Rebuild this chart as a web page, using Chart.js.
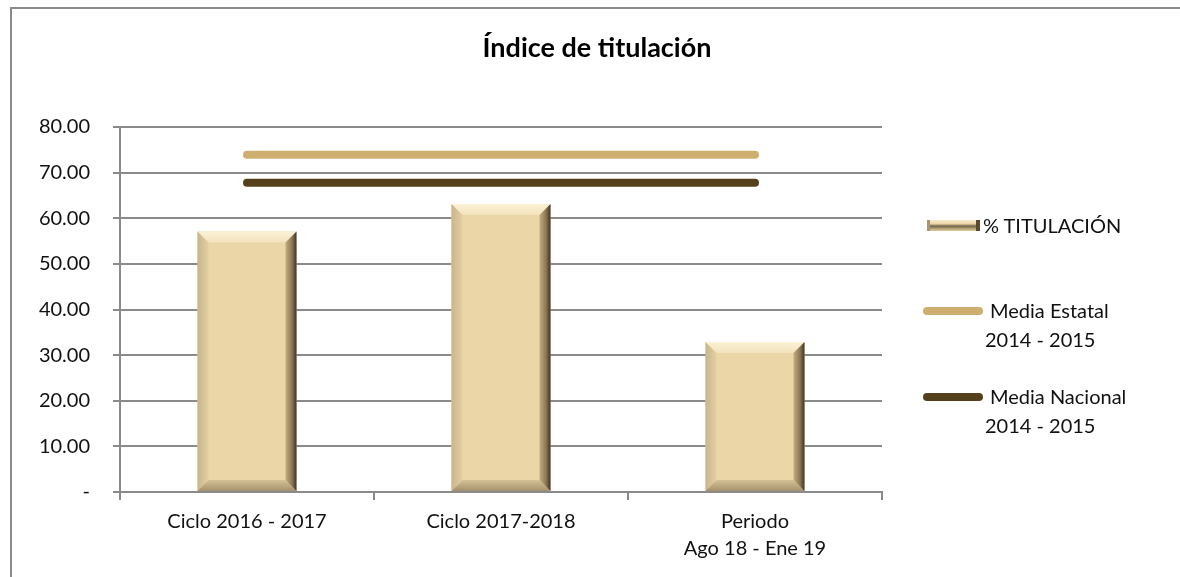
<!DOCTYPE html>
<html>
<head>
<meta charset="utf-8">
<script src="https://cdn.jsdelivr.net/npm/chart.js@4/dist/chart.umd.min.js"></script>
<style>
  body { margin: 0; background: #fff; font-family: Lato, "Open Sans", sans-serif; }
  #wrap { position: relative; width: 1180px; height: 577px; overflow: hidden; }
  #frame { position: absolute; left: 10px; top: 7px; width: 1300px; height: 700px;
           border-top: 2px solid #8a8a8a; border-left: 2px solid #8a8a8a; }
  #myChart { position: absolute; left: 0; top: 0; }
  #title { position: absolute; left: 0; width: 1194px; top: 30px; text-align: center;
           font-weight: bold; font-size: 27px; color: #000; }
  .leg { position: absolute; font-size: 20px; color: #111; line-height: 29px; white-space: nowrap; }
  .sw-line { position: absolute; height: 8px; border-radius: 4px; }
  .sw-bar { position: absolute; width: 53px; height: 11px;
            background: linear-gradient(to bottom, #f8ecce 0%, #ead5a5 35%, #6f6448 55%, #b9a47a 80%, #e2cc9c 100%);
            border-left: 3px solid #a89572; border-right: 4px solid #5a4a30; box-sizing: border-box; }
</style>
</head>
<body>
<div id="wrap">
  <div id="frame"></div>
  <canvas id="myChart" width="1180" height="577"></canvas>
  <div id="title">Índice de titulación</div>
  <div class="sw-bar" style="left:927px; top:220px;"></div>
  <div class="leg" style="left:983px; top:211px;">% TITULACIÓN</div>
  <div class="sw-line" style="left:923px; top:307px; width:60px; background:#cfaf70;"></div>
  <div class="leg" style="left:990px; top:296px;">Media Estatal</div>
  <div class="leg" style="left:985px; top:325px;">2014 - 2015</div>
  <div class="sw-line" style="left:923px; top:393px; width:60px; background:#55401c;"></div>
  <div class="leg" style="left:990px; top:382px;">Media Nacional</div>
  <div class="leg" style="left:985px; top:411px;">2014 - 2015</div>
</div>
<script>
// categories and values
var categorias = ['Ciclo 2016 - 2017', 'Ciclo 2017-2018', ['Periodo', 'Ago 18 - Ene 19']];
var titulacion = [57.1, 63.1, 32.9];
var mediaEstatal = [73.9, 73.9, 73.9];
var mediaNacional = [67.8, 67.8, 67.8];
var yTicks = [0, 10, 20, 30, 40, 50, 60, 70, 80];

//bevel look for the bars, drawn on top of the library's bar rectangles
var bevelPlugin = {
    id: 'bevel',
    afterDatasetDraw: function(chart, args) {
        if (args.index !== 0) return;
        var ctx = chart.ctx;
        var b = 11;
        args.meta.data.forEach(function(bar) {
            var l = bar.x - bar.width / 2, r = bar.x + bar.width / 2;
            var t = bar.y, bt = bar.base;
            ctx.save();
            // top
            var g = ctx.createLinearGradient(0, t, 0, t + b);
            g.addColorStop(0, '#fbf1d6'); g.addColorStop(1, '#f3e3bc');
            ctx.fillStyle = g;
            ctx.beginPath(); ctx.moveTo(l, t); ctx.lineTo(r, t); ctx.lineTo(r - b, t + b); ctx.lineTo(l + b, t + b); ctx.closePath(); ctx.fill();
            // left
            g = ctx.createLinearGradient(l, 0, l + b, 0);
            g.addColorStop(0, '#c9b58e'); g.addColorStop(1, '#e4cfa2');
            ctx.fillStyle = g;
            ctx.beginPath(); ctx.moveTo(l, t); ctx.lineTo(l + b, t + b); ctx.lineTo(l + b, bt - b); ctx.lineTo(l, bt); ctx.closePath(); ctx.fill();
            // bottom
            g = ctx.createLinearGradient(0, bt - b, 0, bt);
            g.addColorStop(0, '#d6c296'); g.addColorStop(1, '#a4906c');
            ctx.fillStyle = g;
            ctx.beginPath(); ctx.moveTo(l, bt); ctx.lineTo(l + b, bt - b); ctx.lineTo(r - b, bt - b); ctx.lineTo(r, bt); ctx.closePath(); ctx.fill();
            // right
            g = ctx.createLinearGradient(r - b, 0, r, 0);
            g.addColorStop(0, '#c4ad80'); g.addColorStop(0.6, '#8a7654'); g.addColorStop(1, '#3e3222');
            ctx.fillStyle = g;
            ctx.beginPath(); ctx.moveTo(r, t); ctx.lineTo(r, bt); ctx.lineTo(r - b, bt - b); ctx.lineTo(r - b, t + b); ctx.closePath(); ctx.fill();
            ctx.restore();
        });
    }
};

var ctx = document.getElementById('myChart').getContext('2d');
var myChart = new Chart(ctx, {
    type: 'bar',
    data: {
        labels: categorias,
        datasets: [{
            label: '% TITULACIÓN',
            data: titulacion,
            backgroundColor: '#ead6a7',
            borderWidth: 0,
            barPercentage: 0.39,
            categoryPercentage: 1,
            order: 2
        }, {
            type: 'line',
            label: 'Media Estatal 2014 - 2015',
            data: mediaEstatal,
            borderColor: '#cfaf70',
            borderWidth: 8,
            borderCapStyle: 'round',
            pointRadius: 0,
            order: 1
        }, {
            type: 'line',
            label: 'Media Nacional 2014 - 2015',
            data: mediaNacional,
            borderColor: '#55401c',
            borderWidth: 8,
            borderCapStyle: 'round',
            pointRadius: 0,
            order: 0
        }]
    },
    options: {
        responsive: false,
        animation: false,
        layout: { padding: { left: 10, right: 298, top: 127, bottom: 0 } },
        plugins: {
            legend: { display: false },
            tooltip: { enabled: false },
            title: { display: false }
        },
        scales: {
            x: {
                grid: { drawOnChartArea: false, tickLength: 8, color: '#8a8a8a', lineWidth: 2, offset: true },
                border: { color: '#8a8a8a', width: 2 },
                ticks: { color: '#111', font: { family: 'Lato', size: 20, lineHeight: 1.35 }, padding: 8, maxRotation: 0 },
                afterFit: function(scale) { scale.height = 85; }
            },
            y: {
                min: 0,
                max: 80,
                afterBuildTicks: function(scale) { scale.ticks = yTicks.map(function(v) { return { value: v }; }); },
                grid: { color: '#8a8a8a', lineWidth: 2, tickLength: 7 },
                border: { color: '#8a8a8a', width: 2 },
                ticks: {
                    color: '#111',
                    font: { family: 'Lato', size: 20 },
                    padding: 23,
                    callback: function(v) { return v === 0 ? '-' : v.toFixed(2); }
                },
                afterFit: function(scale) { scale.width = 110; }
            }
        }
    },
    plugins: [bevelPlugin]
});
</script>
</body>
</html>
